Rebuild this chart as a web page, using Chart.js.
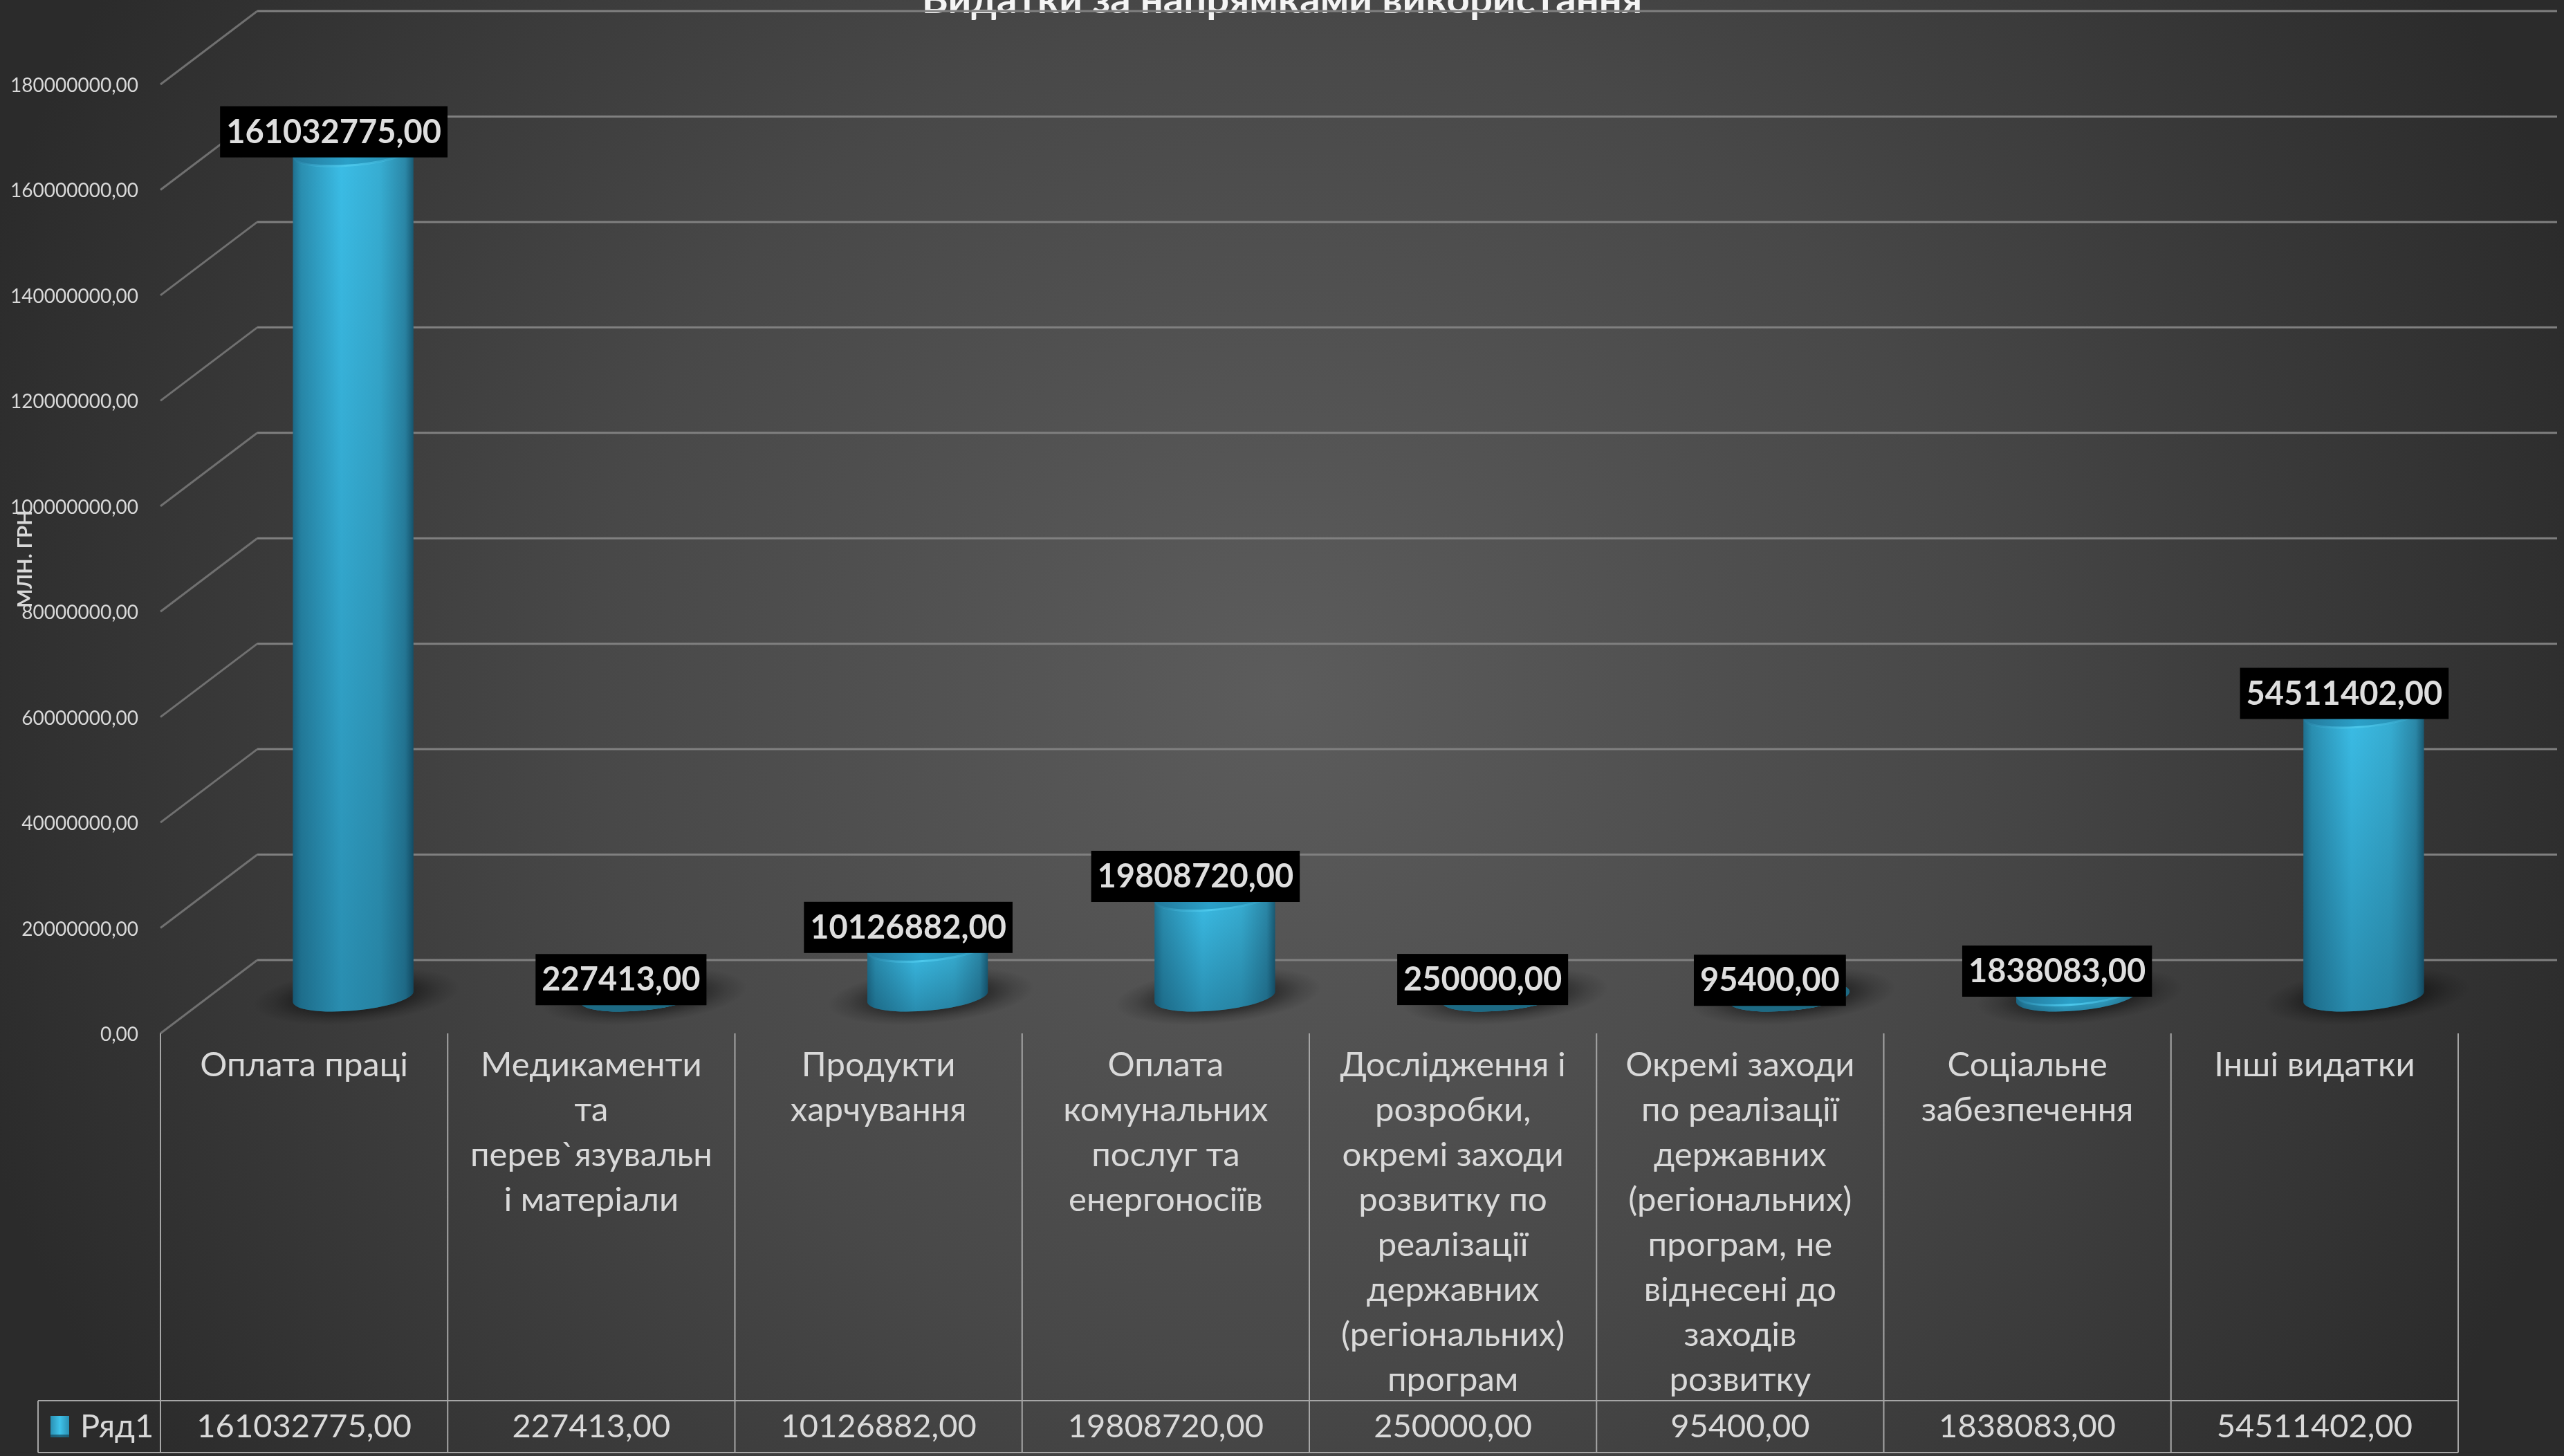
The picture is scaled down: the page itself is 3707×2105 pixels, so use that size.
<!DOCTYPE html>
<html><head><meta charset="utf-8">
<style>html,body{margin:0;padding:0;background:#2b2b2b;overflow:hidden}#w{width:3707px;height:2105px;position:relative}canvas{display:block}</style>
<script src="https://cdn.jsdelivr.net/npm/chart.js@4/dist/chart.umd.min.js"></script>
</head><body><div id="w"><canvas id="c" width="3707" height="2105"></canvas></div>
<script>
const chartTitle = 'Видатки за напрямками використання';
const axisTitle = 'МЛН. ГРН';
const seriesName = 'Ряд1';
const categories = [
  ['Оплата праці'],
  ['Медикаменти','та','перев`язувальн','і матеріали'],
  ['Продукти','харчування'],
  ['Оплата','комунальних','послуг та','енергоносіїв'],
  ['Дослідження і','розробки,','окремі заходи','розвитку по','реалізації','державних','(регіональних)','програм'],
  ['Окремі заходи','по реалізації','державних','(регіональних)','програм, не','віднесені до','заходів','розвитку'],
  ['Соціальне','забезпечення'],
  ['Інші видатки']
];
const values = [161032775, 227413, 10126882, 19808720, 250000, 95400, 1838083, 54511402];
const axisMax = 180000000;
const axisStep = 20000000;

const FONT = 'Lato, "Open Sans", sans-serif';
const DX = 140, DY = -106, BAR_DX = 71, BASE_DY = -53, TOP_DY = -47, RX = 88, RY = 20, ROT = -0.09;
const TABLE_TOP = 2025, TABLE_BOTTOM = 2100, LEGEND_LEFT = 55;
const fmt = v => v.toFixed(2).replace('.', ',');

const scene = {
  id: 'scene',
  beforeDraw(chart) {
    const { ctx } = chart;
    ctx.save();
    const g = ctx.createRadialGradient(1850, 1000, 0, 1850, 1000, 1980);
    g.addColorStop(0, '#5c5c5c');
    g.addColorStop(0.5, '#484848');
    g.addColorStop(1, '#2b2b2b');
    ctx.fillStyle = g;
    ctx.fillRect(0, 0, chart.width, chart.height);
    ctx.restore();
  },
  beforeDatasetsDraw(chart) {
    const { ctx, scales: { x, y }, chartArea: a } = chart;
    ctx.save();
    ctx.lineWidth = 3;
    y.ticks.forEach(t => {
      const py = y.getPixelForValue(t.value);
      ctx.strokeStyle = '#808080';
      ctx.beginPath();
      ctx.moveTo(a.left + DX, py + DY);
      ctx.lineTo(3697, py + DY);
      ctx.stroke();
      ctx.strokeStyle = '#707070';
      ctx.beginPath();
      ctx.moveTo(a.left, py);
      ctx.lineTo(a.left + DX, py + DY);
      ctx.stroke();
    });
    ctx.strokeStyle = '#a6a6a6';
    ctx.lineWidth = 2;
    ctx.beginPath();
    for (let i = 0; i <= categories.length; i++) {
      const px = i === 0 ? a.left : i === categories.length ? a.right : (x.getPixelForValue(i - 1) + x.getPixelForValue(i)) / 2;
      ctx.moveTo(px, a.bottom);
      ctx.lineTo(px, TABLE_BOTTOM);
    }
    ctx.moveTo(LEGEND_LEFT, TABLE_TOP); ctx.lineTo(a.right, TABLE_TOP);
    ctx.moveTo(LEGEND_LEFT, TABLE_TOP); ctx.lineTo(LEGEND_LEFT, TABLE_BOTTOM);
    ctx.moveTo(LEGEND_LEFT, TABLE_BOTTOM); ctx.lineTo(a.right, TABLE_BOTTOM);
    ctx.stroke();
    const rowY = (TABLE_TOP + TABLE_BOTTOM) / 2;
    ctx.fillStyle = '#d9d9d9';
    ctx.font = '47px ' + FONT;
    ctx.textBaseline = 'middle';
    ctx.textAlign = 'center';
    values.forEach((v, i) => ctx.fillText(fmt(v), x.getPixelForValue(i), rowY));
    ctx.textAlign = 'left';
    ctx.fillText(seriesName, 116, rowY);
    const kg = ctx.createLinearGradient(73, 0, 100, 0);
    kg.addColorStop(0, '#2a8fb2'); kg.addColorStop(0.5, '#3fc3ea'); kg.addColorStop(1, '#2a8fb2');
    ctx.fillStyle = kg;
    ctx.fillRect(73, 2047, 27, 31);
    ctx.fillStyle = 'rgba(20,70,90,.7)';
    ctx.fillRect(73, 2074, 27, 4);
    ctx.restore();
  },
  beforeDatasetDraw(chart) {
    const { ctx } = chart;
    const els = chart.getDatasetMeta(0).data;
    ctx.save();
    els.forEach(el => {
      const p = el.getProps(['x', 'base'], true);
      const cx = p.x + BAR_DX + 5, cy = p.base + BASE_DY - 1;
      ctx.save();
      ctx.translate(cx, cy);
      ctx.rotate(ROT);
      ctx.scale(150, 40);
      const g = ctx.createRadialGradient(0, 0, 0, 0, 0, 1);
      g.addColorStop(0, 'rgba(0,0,0,.6)');
      g.addColorStop(0.55, 'rgba(0,0,0,.42)');
      g.addColorStop(0.8, 'rgba(0,0,0,.15)');
      g.addColorStop(1, 'rgba(0,0,0,0)');
      ctx.fillStyle = g;
      ctx.beginPath(); ctx.arc(0, 0, 1, 0, Math.PI * 2); ctx.fill();
      ctx.restore();
    });
    els.forEach(el => {
      const p = el.getProps(['x', 'y', 'base', 'width'], true);
      const cx = p.x + BAR_DX, rx = p.width / 2;
      const base = p.base + BASE_DY;
      const top = Math.min(base, p.y + TOP_DY);
      const left = cx - rx, right = cx + rx;
      ctx.save();
      ctx.beginPath();
      ctx.ellipse(cx, base, rx, RY, ROT, 0, Math.PI);
      ctx.ellipse(cx, top, rx, RY, ROT, Math.PI, Math.PI * 2);
      ctx.closePath();
      const h = ctx.createLinearGradient(left, 0, right, 0);
      h.addColorStop(0, '#1f6f8d');
      h.addColorStop(0.07, '#2a8fb1');
      h.addColorStop(0.4, '#3bbde6');
      h.addColorStop(0.72, '#37aed3');
      h.addColorStop(0.93, '#2b88a8');
      h.addColorStop(1, '#195a73');
      ctx.fillStyle = h;
      ctx.fill();
      ctx.clip();
      const v = ctx.createLinearGradient(0, top, 0, base + RY);
      v.addColorStop(0, 'rgba(0,30,50,0)');
      v.addColorStop(1, 'rgba(0,30,50,.3)');
      ctx.fillStyle = v;
      ctx.fillRect(left, top - RY, p.width, base - top + 2 * RY + 2);
      ctx.restore();
      if (base - top < 1) {
        ctx.fillStyle = '#1d6a84';
        ctx.beginPath(); ctx.ellipse(cx, top, rx, RY, ROT, 0, Math.PI * 2); ctx.fill();
        return;
      }
      const cap = ctx.createLinearGradient(left, 0, right, 0);
      cap.addColorStop(0, '#23789a');
      cap.addColorStop(0.45, '#2ba0c8');
      cap.addColorStop(1, '#2789aa');
      ctx.fillStyle = cap;
      ctx.beginPath(); ctx.ellipse(cx, top, rx, RY, ROT, 0, Math.PI * 2); ctx.fill();
      const rim = ctx.createLinearGradient(left, 0, right, 0);
      rim.addColorStop(0, 'rgba(80,200,236,0)');
      rim.addColorStop(0.45, 'rgba(80,205,240,.9)');
      rim.addColorStop(1, 'rgba(80,200,236,0)');
      ctx.strokeStyle = rim;
      ctx.lineWidth = 3;
      ctx.beginPath(); ctx.ellipse(cx, top, rx - 1, RY - 1, ROT, 0.15, Math.PI - 0.15); ctx.stroke();
    });
    ctx.restore();
    return false;
  },
  afterDatasetsDraw(chart) {
    const { ctx } = chart;
    const els = chart.getDatasetMeta(0).data;
    ctx.save();
    ctx.font = 'bold 47px ' + FONT;
    ctx.textBaseline = 'middle';
    ctx.textAlign = 'center';
    els.forEach((el, i) => {
      const p = el.getProps(['x', 'y'], true);
      const s = fmt(values[i]);
      const w = ctx.measureText(s).width + 18;
      const cx = p.x + BAR_DX - 28, cy = p.y - 76;
      ctx.fillStyle = '#000';
      ctx.fillRect(cx - w / 2, cy - 37, w, 74);
      ctx.fillStyle = '#dedede';
      ctx.fillText(s, cx, cy + 1);
    });
    ctx.restore();
  }
};

new Chart(document.getElementById('c'), {
  type: 'bar',
  data: {
    labels: categories,
    datasets: [{ label: seriesName, data: values, backgroundColor: '#3cc0e9', categoryPercentage: 1, barPercentage: 0.4215 }]
  },
  plugins: [scene],
  options: {
    responsive: false,
    animation: false,
    layout: { padding: { top: -35, right: 0, bottom: 5, left: 0 } },
    plugins: {
      legend: { display: false },
      tooltip: { enabled: false },
      title: {
        display: true, text: chartTitle, color: '#f4f4f4',
        font: { family: FONT, size: 58, weight: 'bold' },
        padding: { top: 0, bottom: 87.4 }
      }
    },
    scales: {
      x: {
        grid: { display: false }, border: { display: false },
        afterFit(s) { s.height = 606; },
        ticks: {
          color: '#d9d9d9', autoSkip: false, maxRotation: 0, minRotation: 0, padding: 6,
          font: { family: FONT, size: 49, lineHeight: 65 / 49 }
        }
      },
      y: {
        min: 0, max: axisMax,
        grid: { display: false }, border: { display: false },
        afterFit(s) { s.width = 232; },
        title: { display: true, text: axisTitle, color: '#d9d9d9', font: { family: FONT, size: 29, weight: 'bold' }, padding: { top: 19, bottom: 0 } },
        ticks: {
          stepSize: axisStep, color: '#d9d9d9', padding: 24, labelOffset: 2,
          font: { family: FONT, size: 28 },
          callback: v => fmt(v)
        }
      },
      yRight: {
        position: 'right', min: 0, max: axisMax,
        grid: { display: false }, border: { display: false },
        ticks: { display: false },
        afterFit(s) { s.width = 153; }
      }
    }
  }
});
</script></body></html>
